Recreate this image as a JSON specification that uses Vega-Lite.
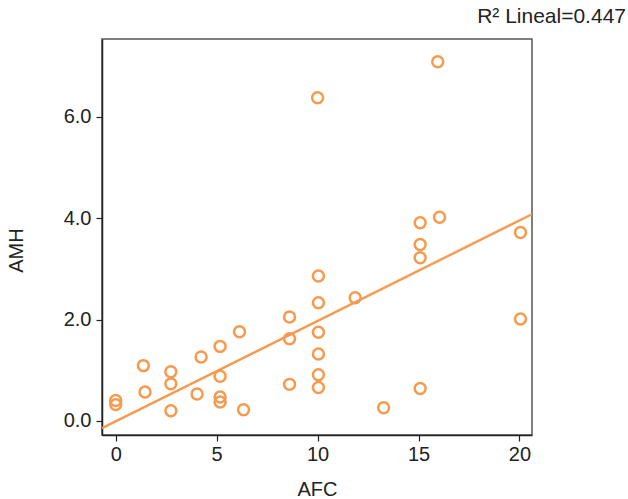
{
  "$schema": "https://vega.github.io/schema/vega-lite/v6.json",
  "width": 430,
  "height": 396,
  "autosize": {"type": "none"},
  "padding": {"left": 102, "top": 39, "right": 96, "bottom": 64},
  "background": "white",
  "title": {
    "text": "R² Lineal=0.447",
    "anchor": "end",
    "frame": "group",
    "dx": 94,
    "offset": 12,
    "fontSize": 21,
    "font": "Liberation Sans",
    "fontWeight": "normal",
    "color": "#222222"
  },
  "config": {
    "view": {"stroke": "#555555", "strokeWidth": 1.5},
    "axis": {
      "grid": false,
      "domainColor": "#222222",
      "domainWidth": 1.5,
      "tickColor": "#222222",
      "tickSize": 6,
      "tickWidth": 1.2,
      "labelFont": "Liberation Sans",
      "labelFontSize": 20,
      "labelColor": "#222222",
      "labelPadding": 3,
      "titleFont": "Liberation Sans",
      "titleFontSize": 20,
      "titleFontWeight": "normal",
      "titleColor": "#222222"
    }
  },
  "datasets": {
    "points": [
      {"AFC": 0, "AMH": 0.40},
      {"AFC": 0, "AMH": 0.32},
      {"AFC": 1.37, "AMH": 1.09},
      {"AFC": 1.45, "AMH": 0.57},
      {"AFC": 2.73, "AMH": 0.97},
      {"AFC": 2.73, "AMH": 0.73},
      {"AFC": 2.73, "AMH": 0.20},
      {"AFC": 4.03, "AMH": 0.53},
      {"AFC": 4.23, "AMH": 1.26},
      {"AFC": 5.17, "AMH": 1.47},
      {"AFC": 5.17, "AMH": 0.88},
      {"AFC": 5.17, "AMH": 0.47},
      {"AFC": 5.17, "AMH": 0.37},
      {"AFC": 6.13, "AMH": 1.76},
      {"AFC": 6.33, "AMH": 0.22},
      {"AFC": 8.61, "AMH": 2.05},
      {"AFC": 8.61, "AMH": 1.62},
      {"AFC": 8.61, "AMH": 0.72},
      {"AFC": 10.0, "AMH": 6.38},
      {"AFC": 10.04, "AMH": 2.86},
      {"AFC": 10.04, "AMH": 2.33},
      {"AFC": 10.04, "AMH": 1.75},
      {"AFC": 10.04, "AMH": 1.32},
      {"AFC": 10.04, "AMH": 0.91},
      {"AFC": 10.04, "AMH": 0.66},
      {"AFC": 11.86, "AMH": 2.43},
      {"AFC": 13.27, "AMH": 0.26},
      {"AFC": 15.08, "AMH": 3.91},
      {"AFC": 15.08, "AMH": 3.48},
      {"AFC": 15.08, "AMH": 3.22},
      {"AFC": 15.08, "AMH": 0.64},
      {"AFC": 16.04, "AMH": 4.02},
      {"AFC": 15.95, "AMH": 7.09},
      {"AFC": 20.05, "AMH": 3.72},
      {"AFC": 20.05, "AMH": 2.01}
    ],
    "fit": [
      {"AFC": -0.68, "AMH": -0.146},
      {"AFC": 20.62, "AMH": 4.08}
    ]
  },
  "layer": [
    {
      "data": {"name": "fit"},
      "mark": {"type": "line", "color": "#F79A4E", "strokeWidth": 2.4, "clip": true},
      "encoding": {
        "x": {"field": "AFC", "type": "quantitative"},
        "y": {"field": "AMH", "type": "quantitative"}
      }
    },
    {
      "data": {"name": "points"},
      "mark": {"type": "point", "shape": "circle", "filled": false, "color": "#F79A4E", "size": 120, "strokeWidth": 2.5, "opacity": 1},
      "encoding": {
        "x": {
          "field": "AFC",
          "type": "quantitative",
          "scale": {"domain": [-0.68, 20.62], "nice": false, "zero": false},
          "axis": {"values": [0, 5, 10, 15, 20], "title": "AFC", "titleX": 215, "titleY": 54, "titleBaseline": "middle", "titleAlign": "center"}
        },
        "y": {
          "field": "AMH",
          "type": "quantitative",
          "scale": {"domain": [-0.28, 7.54], "nice": false, "zero": false},
          "axis": {"values": [0, 2, 4, 6], "format": ".1f", "labelPadding": 5, "title": "AMH", "titleX": -86, "titleY": 211, "titleAngle": -90, "titleBaseline": "middle", "titleAlign": "center"}
        }
      }
    }
  ]
}
